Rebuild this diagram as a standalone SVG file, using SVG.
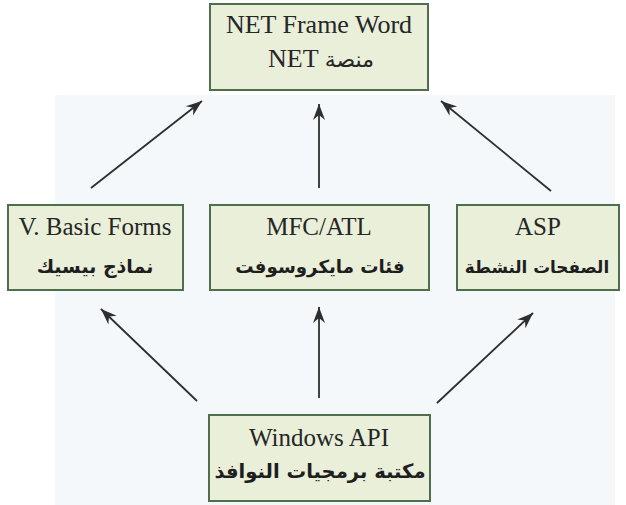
<svg xmlns="http://www.w3.org/2000/svg" width="626" height="505" viewBox="0 0 626 505">
  <style>
    .box { fill: #e9efd9; stroke: #4f6e4c; stroke-width: 2; }
    .lat { font-family: "Liberation Serif", "DejaVu Serif", serif; font-size: 25px; fill: #262626; text-anchor: middle; }
    .ar { font-family: "DejaVu Sans", "Noto Sans", sans-serif; font-weight: bold; font-size: 19px; fill: #1e1e1e; text-anchor: middle; }
    .arw { stroke: #2e2e2e; stroke-width: 1.8; fill: none; marker-end: url(#ah); }
  </style>
  <defs>
    <marker id="ah" markerUnits="userSpaceOnUse" markerWidth="20" markerHeight="14" viewBox="-16 -7 18 14" refX="0" refY="0" orient="auto">
      <path d="M0,0 L-16,-6 L-11,0 L-16,6 Z" fill="#2e2e2e"/>
    </marker>
  </defs>
  <rect x="0" y="0" width="626" height="505" fill="#ffffff"/>
  <rect x="55" y="95" width="560" height="410" fill="#f5f8fa"/>

  <g id="connectors">
    <line class="arw" x1="91" y1="188" x2="202" y2="101"/>
    <line class="arw" x1="319" y1="188" x2="319" y2="104"/>
    <line class="arw" x1="551" y1="191" x2="441" y2="101"/>
    <line class="arw" x1="197" y1="401" x2="101" y2="309"/>
    <line class="arw" x1="319" y1="398" x2="319" y2="307"/>
    <line class="arw" x1="437" y1="403" x2="533" y2="313"/>
  </g>

  <g id="net">
    <rect class="box" x="210" y="4" width="218" height="86"/>
    <text class="lat" x="319" y="33" style="font-size:26px">NET Frame Word</text>
    <text class="lat" x="321" y="67" style="font-size:26px">NET <tspan style="font-family:'DejaVu Sans',sans-serif;font-size:22px">منصة</tspan></text>
  </g>

  <g id="vbasic">
    <rect class="box" x="8" y="205" width="175" height="85"/>
    <text class="lat" x="95" y="235">V. Basic Forms</text>
    <text class="ar" x="95" y="273" style="font-size:19px">نماذج بيسيك</text>
  </g>

  <g id="mfc">
    <rect class="box" x="210" y="205" width="219" height="85"/>
    <text class="lat" x="319" y="235">MFC/ATL</text>
    <text class="ar" x="320" y="273" style="font-size:18.2px">فئات مايكروسوفت</text>
  </g>

  <g id="asp">
    <rect class="box" x="457" y="205" width="162" height="85"/>
    <text class="lat" x="538" y="235">ASP</text>
    <text class="ar" x="537" y="273" style="font-size:16.8px">الصفحات النشطة</text>
  </g>

  <g id="winapi">
    <rect class="box" x="209" y="415" width="221" height="86"/>
    <text class="lat" x="319" y="446">Windows API</text>
    <text class="ar" x="320" y="478" style="font-size:19.6px">مكتبة برمجيات النوافذ</text>
  </g>
</svg>
